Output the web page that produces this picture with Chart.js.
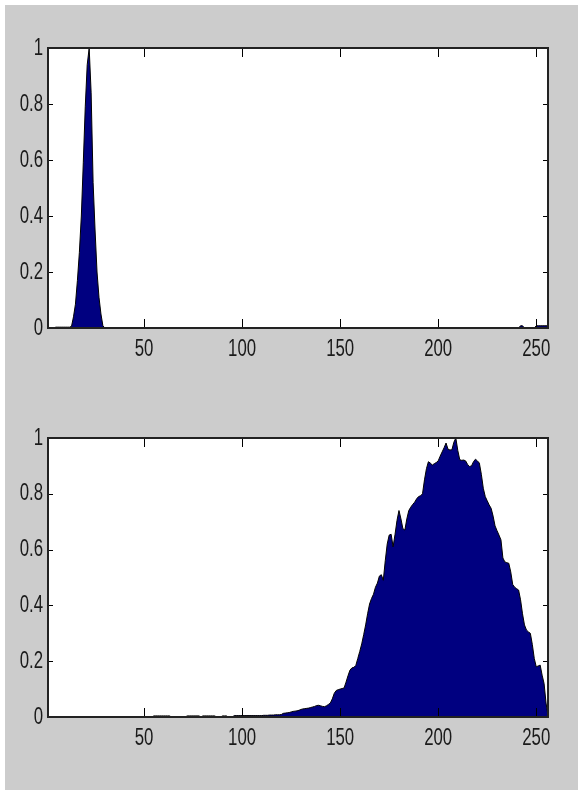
<!DOCTYPE html>
<html>
<head>
<meta charset="utf-8">
<script src="https://cdn.jsdelivr.net/npm/chart.js@4/dist/chart.umd.min.js"></script>
<style>
  html, body { margin: 0; padding: 0; background: #ffffff; }
  #frame { position: absolute; left: 5px; top: 5px; width: 573px; height: 785px; background: #cccccc; }
  .box { position: absolute; left: 0; width: 578px; }
  #b1 { top: 0; height: 390px; }
  #b2 { top: 390px; height: 405px; }
</style>
</head>
<body>
<div id="frame"></div>
<div class="box" id="b1"><canvas id="c1"></canvas></div>
<div class="box" id="b2"><canvas id="c2"></canvas></div>
<script>
// ---- data ----
const xTicks = [50, 100, 150, 200, 250];
const yTicks = [0, 0.2, 0.4, 0.6, 0.8, 1];

// top histogram, bins 1..256
const topHist = [
  0,0,0,0,0.003,0.003,0.003,0.003,0.003,0.003,            // 1-10
  0.003,0.003,0.006,0.04,0.085,0.17,0.27,0.40,0.59,0.79,  // 11-20
  0.94,1.0,0.84,0.52,0.35,0.20,0.11,0.05,0.008,0,         // 21-30
  0,0,0,0,0,0,0,0,0,0, 0,0,0,0,0,0,0,0,0,0,               // 31-50
  0,0,0,0,0,0,0,0,0,0, 0,0,0,0,0,0,0,0,0,0,               // 51-70
  0,0,0,0,0,0,0,0,0,0, 0,0,0,0,0,0,0,0,0,0,               // 71-90
  0,0,0,0,0,0,0,0,0,0, 0,0,0,0,0,0,0,0,0,0,               // 91-110
  0,0,0,0,0,0,0,0,0,0, 0,0,0,0,0,0,0,0,0,0,               // 111-130
  0,0,0,0,0,0,0,0,0,0, 0,0,0,0,0,0,0,0,0,0,               // 131-150
  0,0,0,0,0,0,0,0,0,0, 0,0,0,0,0,0,0,0,0,0,               // 151-170
  0,0,0,0,0,0,0,0,0,0, 0,0,0,0,0,0,0,0,0,0,               // 171-190
  0,0,0,0,0,0,0,0,0,0, 0,0,0,0,0,0,0,0,0,0,               // 191-210
  0,0,0,0,0,0,0,0,0,0, 0,0,0,0,0,0,0,0,0,0,               // 211-230
  0,0,0,0,0,0,0,0,0,0, 0,0.008,0.008,0,0,0,0,0,0,0.008,   // 231-250
  0.008,0.008,0.008,0.008,0.008,0.008                     // 251-256
];

// bottom histogram, bins 1..256
const bottomHist = [
  0,0,0,0,0,0,0,0,0,0, 0,0,0,0,0,0,0,0,0,0,               // 1-20
  0,0,0,0,0,0,0,0,0,0, 0,0,0,0,0,0,0,0,0,0,               // 21-40
  0,0,0,0,0,0,0,0,0,0, 0,0,0,0,0.004,0.004,0.004,0.004,0.004,0.004, // 41-60
  0.004,0.004,0.004,0,0,0,0,0,0,0,                        // 61-70
  0,0.004,0.004,0.004,0.004,0.004,0.004,0.004,0,0.004,    // 71-80
  0.004,0.004,0.004,0.004,0.004,0.004,0,0,0,0.004,        // 81-90
  0.004,0.004,0,0,0,0.005,0.005,0.005,0.005,0.005,        // 91-100
  0.005,0.005,0.005,0.005,0.005,0.005,0.005,0.005,0.005,0.005, // 101-110
  0.006,0.006,0.006,0.007,0.007,0.007,0.008,0.008,0.008,0.009, // 111-120
  0.013,0.014,0.015,0.016,0.018,0.020,0.021,0.022,0.024,0.027, // 121-130
  0.029,0.030,0.031,0.032,0.034,0.036,0.038,0.041,0.042,0.040, // 131-140
  0.038,0.037,0.040,0.045,0.050,0.065,0.085,0.095,0.098,0.100, // 141-150
  0.102,0.104,0.125,0.148,0.168,0.176,0.178,0.185,0.210,0.235, // 151-160
  0.262,0.295,0.330,0.370,0.405,0.425,0.440,0.465,0.480,0.505, // 161-170
  0.510,0.490,0.560,0.620,0.652,0.655,0.610,0.655,0.705,0.740, // 171-180
  0.710,0.675,0.670,0.710,0.740,0.752,0.762,0.770,0.782,0.790, // 181-190
  0.793,0.800,0.850,0.890,0.915,0.910,0.903,0.908,0.912,0.918, // 191-200
  0.935,0.950,0.965,0.982,0.960,0.957,0.958,0.985,1.000,0.955, // 201-210
  0.922,0.920,0.921,0.918,0.905,0.898,0.900,0.915,0.924,0.918, // 211-220
  0.910,0.870,0.820,0.790,0.775,0.760,0.748,0.720,0.685,0.668, // 221-230
  0.652,0.635,0.570,0.556,0.553,0.551,0.520,0.475,0.465,0.460, // 231-240
  0.455,0.420,0.370,0.330,0.312,0.305,0.300,0.260,0.210,0.180, // 241-250
  0.183,0.186,0.150,0.120,0.050,0.005                          // 251-256
];

// ---- drawing ----
const FONT = { family: "'Liberation Sans', Arial, sans-serif", size: 24 };
const SQUEEZE = 0.7; // horizontal compression of tick label glyphs

function condensedDrawLabels(chartArea) {
  const ctx = this.ctx;
  const items = this.getLabelItems(chartArea);
  for (const item of items) {
    const o = item.options;
    ctx.save();
    ctx.translate(o.translation[0], o.translation[1]);
    ctx.scale(SQUEEZE, 1);
    ctx.font = item.font.string;
    ctx.fillStyle = o.color;
    ctx.textAlign = o.textAlign;
    ctx.textBaseline = o.textBaseline;
    ctx.fillText(item.label, 0, item.textOffset);
    ctx.restore();
  }
}

const framePlugin = {
  id: 'matlabFrame',
  beforeDraw(chart) {
    const a = chart.chartArea, ctx = chart.ctx;
    ctx.save();
    ctx.fillStyle = '#ffffff';
    ctx.fillRect(a.left, a.top, a.right - a.left, a.bottom - a.top);
    ctx.restore();
  },
  afterDatasetsDraw(chart) {
    const a = chart.chartArea, ctx = chart.ctx;
    const xs = chart.scales.x, ys = chart.scales.y;
    ctx.save();
    ctx.strokeStyle = '#000000';
    ctx.lineWidth = 1;
    ctx.beginPath();
    xTicks.forEach(v => {
      const px = Math.round(xs.getPixelForValue(v)) + 0.5;
      ctx.moveTo(px, a.bottom); ctx.lineTo(px, a.bottom - 9);
      ctx.moveTo(px, a.top); ctx.lineTo(px, a.top + 9);
    });
    yTicks.forEach(v => {
      const py = Math.round(ys.getPixelForValue(v)) + 0.5;
      ctx.moveTo(a.left, py); ctx.lineTo(a.left + 5, py);
      ctx.moveTo(a.right, py); ctx.lineTo(a.right - 5, py);
    });
    ctx.stroke();
    ctx.strokeStyle = '#222222';
    ctx.lineWidth = 2;
    ctx.strokeRect(a.left, a.top, a.right - a.left, a.bottom - a.top);
    ctx.restore();
  }
};

function makeChart(id, hist, pad) {
  const pts = hist.map((v, i) => ({ x: i + 1, y: v }));
  return new Chart(document.getElementById(id), {
    type: 'line',
    data: {
      datasets: [{
        data: pts,
        fill: 'origin',
        backgroundColor: '#000080',
        borderColor: '#000000',
        borderWidth: 1,
        pointRadius: 0,
        tension: 0
      }]
    },
    options: {
      responsive: true,
      maintainAspectRatio: false,
      animation: false,
      layout: { padding: pad },
      plugins: { legend: { display: false }, tooltip: { enabled: false } },
      scales: {
        x: {
          type: 'linear', min: 1, max: 256,
          grid: { display: false, drawTicks: false },
          border: { display: false },
          afterBuildTicks(s) { s.ticks = xTicks.map(v => ({ value: v })); },
          afterFit(s) { s.height = 40; s.drawLabels = condensedDrawLabels; },
          ticks: { font: FONT, color: '#1a1a1a', padding: 7, maxRotation: 0, autoSkip: false,
                   callback: v => String(v) }
        },
        y: {
          min: 0, max: 1,
          grid: { display: false, drawTicks: false },
          border: { display: false },
          afterBuildTicks(s) { s.ticks = yTicks.map(v => ({ value: v })); },
          afterFit(s) { s.width = 48; s.drawLabels = condensedDrawLabels; },
          ticks: { font: FONT, color: '#1a1a1a', padding: 5,
                   callback: v => String(Number(v.toFixed(1))) }
        }
      }
    },
    plugins: [framePlugin]
  });
}

makeChart('c1', topHist, { left: 0, top: 48, right: 30, bottom: 22 });
makeChart('c2', bottomHist, { left: 0, top: 48, right: 30, bottom: 38 });
</script>
</body>
</html>
